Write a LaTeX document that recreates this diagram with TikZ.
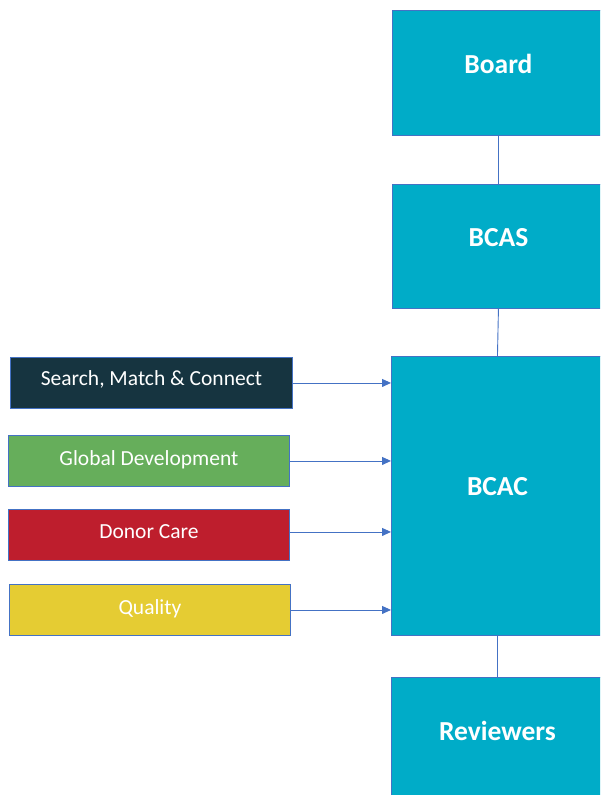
\documentclass[tikz,border=0pt]{standalone}
\usepackage{fontspec}
\setmainfont{Carlito}
\usetikzlibrary{arrows.meta}
\definecolor{boxteal}{RGB}{0,172,200}
\definecolor{edgeblue}{RGB}{68,114,196}
\definecolor{navybox}{RGB}{22,52,64}
\definecolor{greenbox}{RGB}{102,174,91}
\definecolor{redbox}{RGB}{190,30,45}
\definecolor{yellowbox}{RGB}{229,204,51}
\tikzset{
  bigbox/.style={draw=edgeblue, line width=0.9pt, fill=boxteal, anchor=north west,
    minimum width=212pt, inner sep=0pt,
    label={[font=\fontsize{27.5}{30}\selectfont\bfseries, text=white, yshift=9pt]center:#1}},
  smallbox/.style 2 args={draw=edgeblue, line width=0.9pt, anchor=north west,
    minimum width=281pt, minimum height=51pt, inner sep=0pt,
    label={[font=\fontsize{21.5}{24}\selectfont, text=white, yshift=#2]center:#1}},
  link/.style={draw=edgeblue, line width=0.9pt},
  arr/.style={draw=edgeblue, line width=0.9pt, -{Triangle[length=9pt,width=8pt]}}
}
\begin{document}
\begin{tikzpicture}[x=1pt,y=-1pt]
\useasboundingbox (0,0) rectangle (600,795);
\clip (0,0) rectangle (600,795);
\node[bigbox=Board, minimum height=125pt] (board) at (392,10) {};
\node[bigbox=BCAS, minimum height=124pt] (bcas) at (392,184) {};
\node[bigbox=BCAC, minimum height=279pt] (bcac) at (391,356) {};
\node[bigbox=Reviewers, minimum height=125pt] (rev) at (391,677) {};
\node[smallbox={Search, Match \& Connect}{4pt}, fill=navybox, minimum width=282pt] (smc) at (10,357) {};
\node[smallbox={Global Development}{1.5pt}, fill=greenbox] (glob) at (8,435) {};
\node[smallbox={Donor Care}{3pt}, fill=redbox] (donor) at (8,509) {};
\node[smallbox={Quality}{1.5pt}, fill=yellowbox] (qual) at (9,584) {};
\draw[link] (board.south) -- (bcas.north);
\draw[link] (bcas.south) -- (bcac.north);
\draw[link] (bcac.south) -- (rev.north);
\draw[arr] (smc.east) -- (smc.east -| bcac.west);
\draw[arr] (glob.east) -- (glob.east -| bcac.west);
\draw[arr] ([yshift=3pt]donor.east) -- ([yshift=3pt]donor.east -| bcac.west);
\draw[arr] (qual.east) -- (qual.east -| bcac.west);
\end{tikzpicture}
\end{document}
